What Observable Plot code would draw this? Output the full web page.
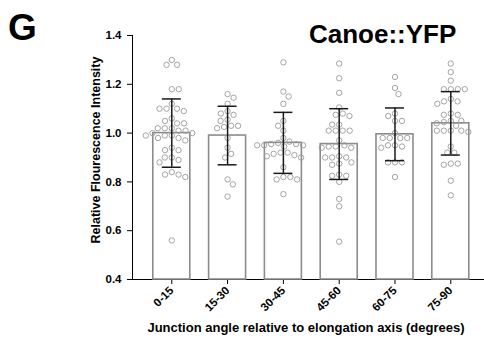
<!DOCTYPE html>
<html>
<head>
<meta charset="utf-8">
<script src="https://cdn.jsdelivr.net/npm/d3@7"></script>
<script src="https://cdn.jsdelivr.net/npm/@observablehq/plot@0.6"></script>
<style>
  body { margin: 0; background: #fff; }
  #wrap { position: relative; width: 484px; height: 341px; font-family: "Liberation Sans", Arial, sans-serif; color: #000; }
  #wrap svg { position: absolute; left: 0; top: 0; }
  .lbl { position: absolute; font-weight: bold; white-space: nowrap; line-height: 1; }
  #panel { left: 8px; top: 9px; font-size: 37px; }
  #title { left: 309px; top: 21px; font-size: 26px; }
  #ylab { left: 96px; top: 150px; font-size: 12.5px; transform: translate(-50%, -50%) rotate(-90deg); }
  #xlab { left: 306px; top: 327px; font-size: 13px; transform: translate(-50%, -50%); }
</style>
</head>
<body>
<div id="wrap">
  <div class="lbl" id="panel">G</div>
  <div class="lbl" id="title">Canoe::YFP</div>
  <div class="lbl" id="ylab">Relative Flourescence Intensity</div>
  <div class="lbl" id="xlab">Junction angle relative to elongation axis (degrees)</div>
</div>
<script>
// ---- data ----
const categories = ["0-15", "15-30", "30-45", "45-60", "60-75", "75-90"];
const means = [1.00, 0.99, 0.96, 0.955, 0.995, 1.04];
const sds   = [0.14, 0.12, 0.125, 0.145, 0.108, 0.13];
const yTicks = [0.4, 0.6, 0.8, 1.0, 1.2, 1.4];

const pts0 = [1.30,1.28,1.28,1.18,1.18,1.12,1.10,1.10,1.10,1.09,1.06,1.05,1.04,1.04,1.02,1.02,1.02,1.01,1.01,1.00,1.00,0.99,0.99,0.99,0.98,0.98,0.97,0.94,0.93,0.93,0.90,0.90,0.89,0.88,0.84,0.83,0.83,0.82,0.56];
const pts1 = [1.16,1.145,1.12,1.09,1.08,1.075,1.055,1.05,1.03,1.03,1.025,1.02,0.98,0.94,0.915,0.90,0.81,0.79,0.74];
const pts2 = [1.29,1.17,1.15,1.12,1.05,1.03,1.01,0.98,0.965,0.96,0.955,0.955,0.95,0.95,0.95,0.945,0.92,0.92,0.915,0.91,0.905,0.90,0.86,0.82,0.82,0.81,0.81,0.75];
const pts3 = [1.285,1.225,1.165,1.105,1.08,1.075,1.07,1.035,1.035,1.01,1.01,1.01,1.01,0.97,0.95,0.945,0.94,0.94,0.945,0.905,0.90,0.90,0.90,0.88,0.875,0.87,0.83,0.825,0.825,0.80,0.73,0.70,0.555];
const pts4 = [1.23,1.185,1.16,1.08,1.07,1.05,1.05,1.00,0.98,0.98,0.98,0.98,0.95,0.94,0.945,0.95,0.88,0.88,0.88,0.82];
const pts5 = [1.285,1.25,1.215,1.18,1.18,1.18,1.18,1.14,1.13,1.13,1.12,1.08,1.075,1.075,1.05,1.05,1.045,1.04,1.03,1.01,1.01,1.01,1.005,1.01,0.945,0.92,0.92,0.875,0.87,0.875,0.805,0.745];
const points = [pts0, pts1, pts2, pts3, pts4, pts5];

// ---- layout ----
const W = 484, H = 341, ML = 132, MR = 0, MT = 35, MB = 62;
const xDomain = [-0.704, 5.604];
const yDomain = [0.4, 1.4];
const pxPerX = (W - ML - MR) / (xDomain[1] - xDomain[0]);
const yPx = d3.scaleLinear(yDomain, [H - MB, MT]);

// simple beeswarm: horizontal offsets (in px) so circles don't overlap
function swarm(values, spacing) {
  const placed = [];
  const out = new Array(values.length);
  const order = d3.range(values.length).sort((a, b) => values[b] - values[a]);
  let flip = 1;
  for (const k of order) {
    const y = yPx(values[k]);
    let pos = null;
    for (let s = 0; pos === null; s += 0.25) {
      const cands = s === 0 ? [0] : [flip * s, -flip * s];
      for (const c of cands) {
        if (placed.every(p => (p.x - c) ** 2 + (p.y - y) ** 2 >= spacing * spacing)) { pos = c; break; }
      }
    }
    if (pos !== 0) flip = -flip;
    placed.push({x: pos, y});
    out[k] = pos;
  }
  return out;
}

const summary = categories.map((c, i) => ({i, cat: c, mean: means[i], sd: sds[i]}));
const dots = [];
points.forEach((vals, i) => {
  const off = swarm(vals, 7.0);
  vals.forEach((v, k) => dots.push({i, v, x: i + off[k] / pxPerX}));
});

const halfBar = 0.3315, halfCap = 0.17;

const chart = Plot.plot({
  width: W, height: H,
  marginLeft: ML, marginRight: MR, marginTop: MT, marginBottom: MB,
  style: {fontFamily: "'Liberation Sans', Arial, sans-serif", fontSize: "11.5px", fontWeight: "bold", color: "#000", background: "transparent"},
  x: {type: "linear", domain: xDomain, ticks: d3.range(categories.length), tickFormat: i => categories[i], tickRotate: -45, tickSize: 5, tickPadding: 4, line: true, label: null},
  y: {domain: yDomain, ticks: yTicks, tickFormat: d3.format(".1f"), tickSize: 5, tickPadding: 6, line: true, label: null},
  marks: [
    Plot.rectY(summary, {x1: d => d.i - halfBar, x2: d => d.i + halfBar, y1: () => yDomain[0], y2: "mean", fill: "white", stroke: "#8c8c8c", strokeWidth: 1.6}),
    Plot.dot(dots, {x: "x", y: "v", r: 2.7, stroke: "#9a9a9a", strokeWidth: 0.9, fill: "none"}),
    Plot.ruleX(summary, {x: "i", y1: d => d.mean - d.sd, y2: d => d.mean + d.sd, stroke: "#1a1a1a", strokeWidth: 1.5}),
    Plot.ruleY(summary, {y: d => d.mean + d.sd, x1: d => d.i - halfCap, x2: d => d.i + halfCap, stroke: "#1a1a1a", strokeWidth: 1.5}),
    Plot.ruleY(summary, {y: d => d.mean - d.sd, x1: d => d.i - halfCap, x2: d => d.i + halfCap, stroke: "#1a1a1a", strokeWidth: 1.5})
  ]
});
document.getElementById("wrap").prepend(chart);
</script>
</body>
</html>
